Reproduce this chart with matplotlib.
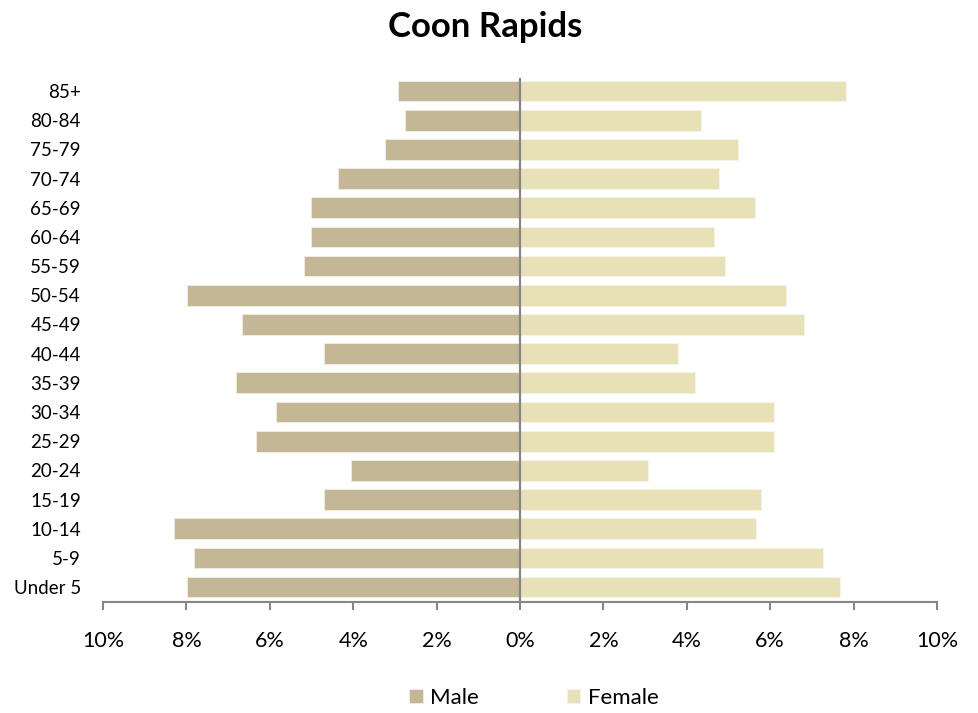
import matplotlib
matplotlib.use("Agg")
import matplotlib.pyplot as plt
import numpy as np
from matplotlib.ticker import FuncFormatter

plt.rcParams['font.family'] = ['Lato', 'DejaVu Sans']

age_groups = ["Under 5", "5-9", "10-14", "15-19", "20-24", "25-29", "30-34",
              "35-39", "40-44", "45-49", "50-54", "55-59", "60-64", "65-69",
              "70-74", "75-79", "80-84", "85+"]
male = [7.98, 7.81, 8.29, 4.71, 4.06, 6.33, 5.84, 6.82, 4.71, 6.67, 7.98,
        5.19, 5.02, 5.02, 4.36, 3.23, 2.75, 2.92]
female = [7.68, 7.27, 5.65, 5.78, 3.06, 6.10, 6.10, 4.20, 3.78, 6.82, 6.38,
          4.92, 4.65, 5.64, 4.78, 5.23, 4.34, 7.82]
x_ticks = [-10, -8, -6, -4, -2, 0, 2, 4, 6, 8, 10]
title = "Coon Rapids"

male_color = "#C4B795"
female_color = "#E8E1B8"
axis_gray = "#868686"

fig = plt.figure(figsize=(9.79, 7.13), dpi=100)
ax = fig.add_axes([0.1052, 0.1562, 0.8519, 0.7366])

y = np.arange(len(age_groups))
ax.barh(y, [-v for v in male], height=0.71, color=male_color,
        edgecolor="#F2EEE2", linewidth=0.6, label="Male")
ax.barh(y, female, height=0.71, color=female_color,
        edgecolor="#F7F4E6", linewidth=0.6, label="Female")

ax.set_xlim(-10, 10)
ax.set_ylim(-0.5, len(age_groups) - 0.5)
ax.axvline(0, color=axis_gray, linewidth=1.6, ymax=0.995, zorder=3)

ax.set_xticks(x_ticks)
ax.xaxis.set_major_formatter(FuncFormatter(lambda v, p: f"{abs(int(round(v)))}%"))
ax.set_yticks(y)
ax.set_yticklabels(age_groups)

for s in ["top", "right", "left"]:
    ax.spines[s].set_visible(False)
ax.spines["bottom"].set_color(axis_gray)
ax.spines["bottom"].set_linewidth(1.5)

ax.tick_params(axis="x", direction="out", length=6, width=1.5, color=axis_gray,
               labelsize=15.5, pad=15, labelcolor="black")
ax.tick_params(axis="y", length=0, labelsize=13.5, pad=16, labelcolor="black")

fig.text(485 / 979, 1 - 27 / 713, title, ha="center", va="center",
         fontsize=25, fontweight="bold")

fig.legend(loc="center", bbox_to_anchor=(534 / 979, 1 - 698 / 713), ncol=2,
           frameon=False, fontsize=16, handlelength=0.6, handleheight=0.6,
           handletextpad=0.35, columnspacing=3.95)

fig.savefig("out.png", dpi=100)
